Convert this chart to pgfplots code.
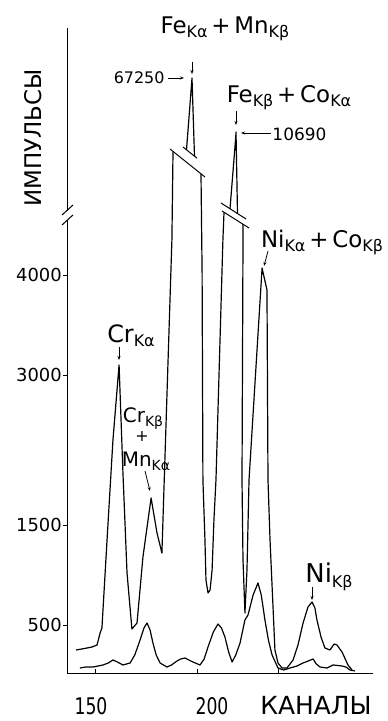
\documentclass[border=0pt]{standalone}
\usepackage{fontspec}
\setmainfont{DejaVu Sans}
\usepackage{pgfplots}
\pgfplotsset{compat=1.18}
\usetikzlibrary{arrows.meta}
\newcommand\fs[1]{\fontsize{#1}{#1}\selectfont}
\newcommand\sub[2][16]{\raisebox{-0.3ex}{\fs{#1}#2}}
\begin{document}
\begin{tikzpicture}
\useasboundingbox (0,0) rectangle (388bp,721bp);
\begin{axis}[
 at={(67bp,48bp)}, anchor=south west,
 scale only axis, width=306bp, height=645bp,
 xmin=136.275, xmax=286.275, ymin=20, ymax=6470,
 axis x line=bottom, axis y line=left,
 axis line style={-, line width=1pt},
 clip=false,
 xtick={150,200,240}, xticklabels={},
 ytick={500,1500,3000,4000}, yticklabels={500,1500,3000,4000},
 xtick align=inside, ytick align=outside,
 major tick length=4bp,
 tick style={black, line width=0.8pt},
 yticklabel style={font=\fs{18}, inner sep=1pt},
 cycle list={{black, solid, mark=none}},
 every axis plot post/.append style={line width=1.2pt, line join=round},
]
% upper curve, up to the break of the Fe K-alpha peak (values above 4600 in broken-axis display units)
\addplot coordinates {(140.7,250)(143.5,260)(146.1,270)(148.5,280)(151.0,300)(152.5,420)(153.4,470)(155.9,1350)(158.8,2350)(161.8,3100)(163.7,2020)(165.7,1020)(168.1,460)(170.6,520)(173.5,1180)(177.5,1770)(180.4,1420)(182.8,1220)(187.7,4350)(188.24,5236)};
% tip of Fe K-alpha + Mn K-beta (67250)
\addplot coordinates {(194.85,5252)(197.3,5900)(197.55,5970)(198.77,5188)};
% between Fe K-alpha and Fe K-beta
\addplot coordinates {(201.96,5012)(202.5,4020)(202.9,1950)(203.9,1350)(204.4,950)(205.4,820)(206.4,850)(207.4,1050)(208.3,1550)(209.3,1950)(212.7,4350)(213.24,4627)};
% tip of Fe K-beta + Co K-alpha (10690)
\addplot coordinates {(216.18,4662)(219.0,5380)(219.12,5430)(219.85,4614)};
% rest of upper curve
\addplot coordinates {(222.55,4508)(222.55,4350)(222.06,1950)(222.55,1150)(223.5,620)(224.5,1050)(225.5,1950)(231.9,4070)(234.3,3850)(234.8,1950)(235.8,1350)(238.2,250)(239.7,120)(241.7,70)(244.1,70)(247.1,150)(249.5,300)(252.0,520)(254.4,680)(256.4,730)(257.8,670)(258.8,550)(260.8,380)(262.7,270)(265.2,250)(267.2,310)(268.6,300)(271.1,230)(274.0,100)(276.0,50)};
% lower curve
\addplot coordinates {(142.6,70)(145.5,80)(149.0,80)(151.5,90)(153.9,100)(156.5,120)(158.8,150)(161.0,130)(163.7,100)(167.2,120)(169.5,200)(172.1,350)(174.0,470)(175.5,520)(177.0,450)(178.4,320)(180.0,200)(181.9,120)(185.3,80)(187.5,100)(190.2,140)(192.0,160)(194.1,170)(196.0,150)(198.0,130)(201.5,100)(203.5,160)(205.4,280)(208.0,430)(210.3,510)(212.0,470)(213.7,380)(215.5,230)(217.2,130)(219.0,200)(221.1,320)(223.5,550)(225.0,600)(227.5,800)(229.9,920)(231.5,800)(233.3,550)(235.0,350)(236.8,200)(239.7,70)(242.5,50)(245.6,70)(249.0,90)(252.0,120)(254.5,140)(256.9,160)(258.5,110)(260.3,80)(263.7,70)(266.7,100)(269.0,95)(271.1,90)(273.0,80)(275.0,50)(277.5,40)};
\end{axis}
\begin{scope}[shift={(0,721bp)}, x=1bp, y=-1bp, line width=1pt]
% y-axis break
\fill[white] (63,211) rectangle (71,220);
\draw (62,215)--(73,205);
\draw (62,225)--(73,215);
% peak breaks
\draw (170,149)--(205,177);
\draw (183,147)--(197,158.2);
\draw (221,203)--(246,219);
\draw (222,211)--(249,228);
% labels
\node[anchor=base, font=\fs{23}] at (225,34) {Fe\sub{Kα}\,+\,Mn\sub{Kβ}};
\draw[line width=0.8pt, -{Stealth[length=4bp,width=3bp]}] (192,62)--(192,74);
\node[anchor=base east, font=\fs{16}, inner sep=1pt] at (166,84) {67250};
\draw[line width=0.8pt, -{Stealth[length=4bp,width=3bp]}] (168,78)--(184,78);
\node[anchor=base, font=\fs{23}] at (289,103) {Fe\sub{Kβ}\,+\,Co\sub{Kα}};
\draw[line width=0.8pt, -{Stealth[length=4bp,width=3bp]}] (236,111)--(236,125);
\draw[line width=0.8pt, -{Stealth[length=4bp,width=3bp]}] (271,133)--(241,133);
\node[anchor=west, font=\fs{17}, inner sep=1pt] at (271,134) {10690};
\node[anchor=base, font=\fs{23}] at (322,248) {Ni\sub{Kα}\,+\,Co\sub{Kβ}};
\draw[line width=0.8pt, -{Stealth[length=4bp,width=3bp]}] (268,251)--(264,266);
\node[anchor=base, font=\fs{24}] at (131,343) {Cr\sub{Kα}};
\draw[line width=0.8pt, -{Stealth[length=4bp,width=3bp]}] (119,347)--(119,360);
\node[anchor=base, font=\fs{20}] at (143,423) {Cr\sub[14]{Kβ}};
\node[font=\fs{16}] at (142,437) {+};
\node[anchor=base, font=\fs{20}] at (146,467) {Mn\sub[14]{Kα}};
\draw[line width=0.8pt, -{Stealth[length=4bp,width=3bp]}] (145,471)--(150,491);
\node[anchor=base, font=\fs{26}] at (329,583) {Ni\sub{Kβ}};
\draw[line width=0.8pt, -{Stealth[length=4bp,width=3bp]}] (312,587)--(312,600);
\node[rotate=90, font=\fs{23}] at (33,138) {ИМПУЛЬСЫ};
\node[anchor=base, font=\fs{25}, inner sep=0pt] at (316,715) {КАНАЛЫ};
\node[anchor=base, inner sep=0pt] at (91,715) {\scalebox{0.75}[1]{\fs{23}150}};
\node[anchor=base, inner sep=0pt] at (212,715) {\scalebox{0.75}[1]{\fs{23}200}};
\end{scope}
\end{tikzpicture}
\end{document}
